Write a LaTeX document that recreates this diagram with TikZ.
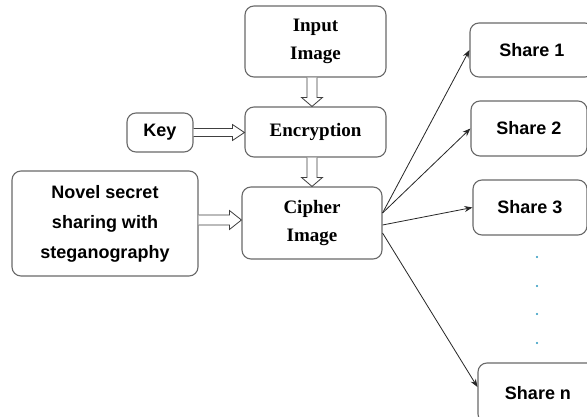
\documentclass[tikz,border=0pt]{standalone}
\usepackage{fontspec}
\setmainfont{Liberation Serif}
\newfontfamily\sansfam{Liberation Sans}
\usetikzlibrary{calc,arrows.meta}
\definecolor{boxline}{RGB}{105,105,105}
\definecolor{dotcol}{RGB}{40,150,190}
\newcommand\hollowdown[2]{%
  \draw[hollow] ($(#1)+(-5,0)$) -- ($(#2)+(-5,9)$) -- ($(#2)+(-10.5,9)$) -- (#2)
    -- ($(#2)+(10.5,9)$) -- ($(#2)+(5,9)$) -- ($(#1)+(5,0)$);}
\newcommand\hollowright[4]{% start, tip, shaft half, head half
  \draw[hollow] ($(#1)+(0,#3)$) -- ($(#2)+(-12,#3)$) -- ($(#2)+(-12,#4)$) -- (#2)
    -- ($(#2)+(-12,-#4)$) -- ($(#2)+(-12,-#3)$) -- ($(#1)+(0,-#3)$);}
\begin{document}
\begin{tikzpicture}[x=1pt,y=1pt,
  box/.style={draw=boxline, line width=1.1pt, rounded corners=9pt, align=center, inner sep=0pt, fill=white},
  serifbox/.style={box, font=\fontsize{19}{28}\selectfont\bfseries},
  sansbox/.style={box, font=\fontsize{18}{30}\selectfont\sansfam\bfseries},
  hollow/.style={draw=black!75, line width=0.8pt, fill=white, line join=miter},
  thin/.style={draw=black!85, line width=0.8pt, -{Stealth[length=8pt,width=6pt]}}]
\clip (0,0) rectangle (587,416);
\fill[white] (0,0) rectangle (587,416);
% main column
\node[serifbox, minimum width=141, minimum height=71] (in) at (315.5,374.5) {Input\\Image};
\node[serifbox, minimum width=141, minimum height=50] (enc) at (315.5,284) {Encryption};
\node[serifbox, minimum width=140, minimum height=72] (ciph) at (312,193) {Cipher\\Image};
% left
\node[sansbox, minimum width=66, minimum height=39] (key) at (160,283.5) {Key};
\node[sansbox, minimum width=186, minimum height=105] (nov) at (105,192.5) {Novel secret\\sharing with\\steganography};
% shares
\node[sansbox, minimum width=124, minimum height=54] (s1) at (532,366) {Share 1};
\node[sansbox, minimum width=116, minimum height=55] (s2) at (529,287.5) {Share 2};
\node[sansbox, minimum width=114, minimum height=55] (s3) at (530,208.5) {Share 3};
\node[sansbox, minimum width=120, minimum height=60] (sn) at (538,23) {Share n};
% hollow arrows
\coordinate (a1) at ($(in.south)+(-3.5,0)$);
\hollowdown{a1}{a1 |- enc.north}
\coordinate (a2) at ($(enc.south)+(-3.5,0)$);
\hollowdown{a2}{a2 |- ciph.north}
\hollowright{key.east}{key.east -| enc.west}{4}{8}
\coordinate (a3) at ($(nov.east)+(0,3.5)$);
\hollowright{a3}{a3 -| ciph.west}{5}{9.5}
% thin arrows
\coordinate (c1) at ($(ciph.east)+(0,10)$);
\coordinate (c3) at ($(ciph.east)+(0,-2)$);
\coordinate (cn) at ($(ciph.east)+(0,-10)$);
\draw[thin] (c1) -- (s1.west);
\draw[thin] (c1) -- (s2.west);
\draw[thin] (c3) -- (s3.west);
\draw[thin] (cn) -- ($(sn.west)+(0,6)$);
% dots
\foreach \yy in {159,130,102,73} \fill[dotcol] (537,\yy) circle (1.1);
\end{tikzpicture}
\end{document}
